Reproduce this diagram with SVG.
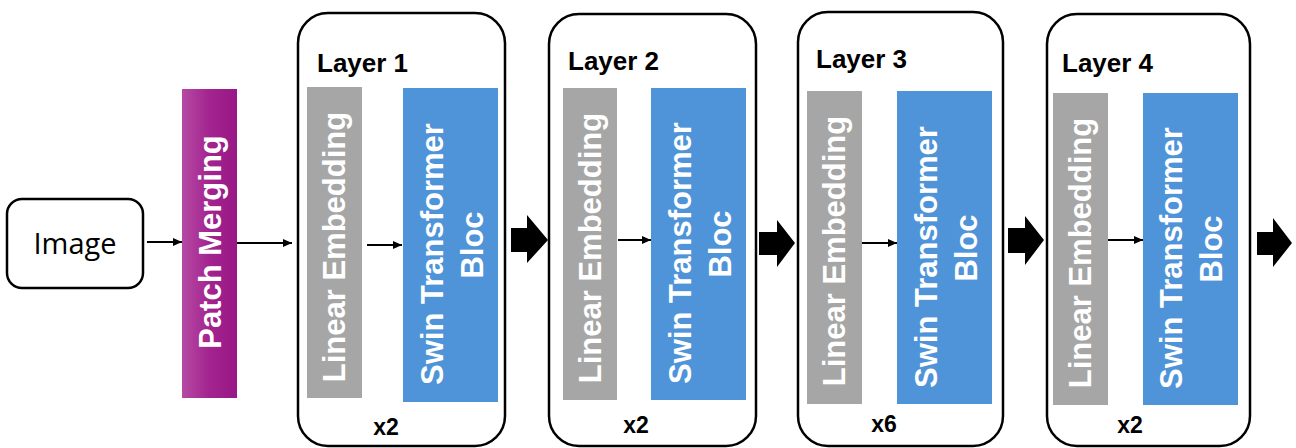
<svg xmlns="http://www.w3.org/2000/svg" width="1296" height="448" viewBox="0 0 1296 448">
<style>
.frame{fill:#fff;stroke:#000;stroke-width:2.5}
.lbl{font-family:"Liberation Sans",Arial,sans-serif;font-weight:bold;fill:#000}
.gray{fill:#a6a6a6}
.blue{fill:#4f94d8}
.wt{font-family:"Liberation Sans",Arial,sans-serif;font-weight:bold;fill:#fff;font-size:31px;text-anchor:middle}
.conn{stroke:#000;stroke-width:2;fill:none}
.blk{fill:#000}
</style>
<defs>
<linearGradient id="pg" x1="0" y1="0" x2="1" y2="0">
<stop offset="0" stop-color="#b54ba3"/>
<stop offset="0.5" stop-color="#a3238f"/>
<stop offset="1" stop-color="#971886"/>
</linearGradient>
<marker id="ah" markerUnits="userSpaceOnUse" markerWidth="10" markerHeight="9" refX="9" refY="4" orient="auto">
<path d="M0,0 L9,4 L0,8 z" fill="#000"/>
</marker>
</defs>

<g id="image">
<rect x="7" y="199" width="136" height="89" rx="15" class="frame"/>
<text x="75" y="254" text-anchor="middle" style="font-family:'Open Sans','Liberation Sans',sans-serif;font-size:29px;fill:#000">Image</text>
</g>

<g id="patch-merging">
<rect x="182" y="89" width="55" height="309" fill="url(#pg)"/>
<text transform="translate(221,242) rotate(-90)" class="wt" style="font-size:31px">Patch Merging</text>
</g>

<g id="layer1">
<rect x="298" y="13" width="207" height="433" rx="30" class="frame"/>
<text x="317" y="72" class="lbl" style="font-size:26px">Layer 1</text>
<rect x="307" y="87" width="55" height="311" class="gray"/>
<text transform="translate(345,247) rotate(-90)" class="wt">Linear Embedding</text>
<rect x="403" y="88" width="95" height="314" class="blue"/>
<text transform="translate(443,254) rotate(-90)" class="wt">Swin Transformer</text>
<text transform="translate(483,245) rotate(-90)" class="wt">Bloc</text>
<text x="386" y="435" text-anchor="middle" class="lbl" style="font-size:23px">x2</text>
</g>

<g id="layer2">
<rect x="549" y="14" width="207" height="432" rx="30" class="frame"/>
<text x="568" y="70" class="lbl" style="font-size:26px">Layer 2</text>
<rect x="563" y="88" width="54" height="312" class="gray"/>
<text transform="translate(601,248) rotate(-90)" class="wt">Linear Embedding</text>
<rect x="651" y="88" width="95" height="312" class="blue"/>
<text transform="translate(691,253) rotate(-90)" class="wt">Swin Transformer</text>
<text transform="translate(731,244) rotate(-90)" class="wt">Bloc</text>
<text x="636" y="433" text-anchor="middle" class="lbl" style="font-size:23px">x2</text>
</g>

<g id="layer3">
<rect x="798" y="12" width="205" height="434" rx="30" class="frame"/>
<text x="816" y="68" class="lbl" style="font-size:26px">Layer 3</text>
<rect x="807" y="91" width="55" height="313" class="gray"/>
<text transform="translate(845,251) rotate(-90)" class="wt">Linear Embedding</text>
<rect x="897" y="91" width="95" height="313" class="blue"/>
<text transform="translate(937,257) rotate(-90)" class="wt">Swin Transformer</text>
<text transform="translate(977,248) rotate(-90)" class="wt">Bloc</text>
<text x="884" y="432" text-anchor="middle" class="lbl" style="font-size:23px">x6</text>
</g>

<g id="layer4">
<rect x="1047" y="14" width="203" height="432" rx="30" class="frame"/>
<text x="1062" y="72" class="lbl" style="font-size:26px">Layer 4</text>
<rect x="1053" y="93" width="55" height="312" class="gray"/>
<text transform="translate(1091,253) rotate(-90)" class="wt">Linear Embedding</text>
<rect x="1143" y="93" width="95" height="312" class="blue"/>
<text transform="translate(1182,258) rotate(-90)" class="wt">Swin Transformer</text>
<text transform="translate(1222,249) rotate(-90)" class="wt">Bloc</text>
<text x="1130" y="433" text-anchor="middle" class="lbl" style="font-size:23px">x2</text>
</g>

<g id="connectors">
<line x1="147" y1="242" x2="182" y2="242" class="conn" marker-end="url(#ah)"/>
<line x1="237" y1="243" x2="292" y2="243" class="conn" marker-end="url(#ah)"/>
<line x1="367" y1="245" x2="402" y2="245" class="conn" marker-end="url(#ah)"/>
<line x1="618" y1="240" x2="651" y2="240" class="conn" marker-end="url(#ah)"/>
<line x1="862" y1="243" x2="897" y2="243" class="conn" marker-end="url(#ah)"/>
<line x1="1108" y1="240" x2="1143" y2="240" class="conn" marker-end="url(#ah)"/>
<path class="blk" d="M511,228 H527 V215 L548,240 L527,263 V252 H511 Z"/>
<path class="blk" d="M759,232 H777 V220 L795,243 L777,267 V255 H759 Z"/>
<path class="blk" d="M1008,228 H1025 V216 L1044,240 L1025,265 V253 H1008 Z"/>
<path class="blk" d="M1257,232 H1273 V218 L1292,243 L1273,267 V255 H1257 Z"/>
</g>
</svg>
